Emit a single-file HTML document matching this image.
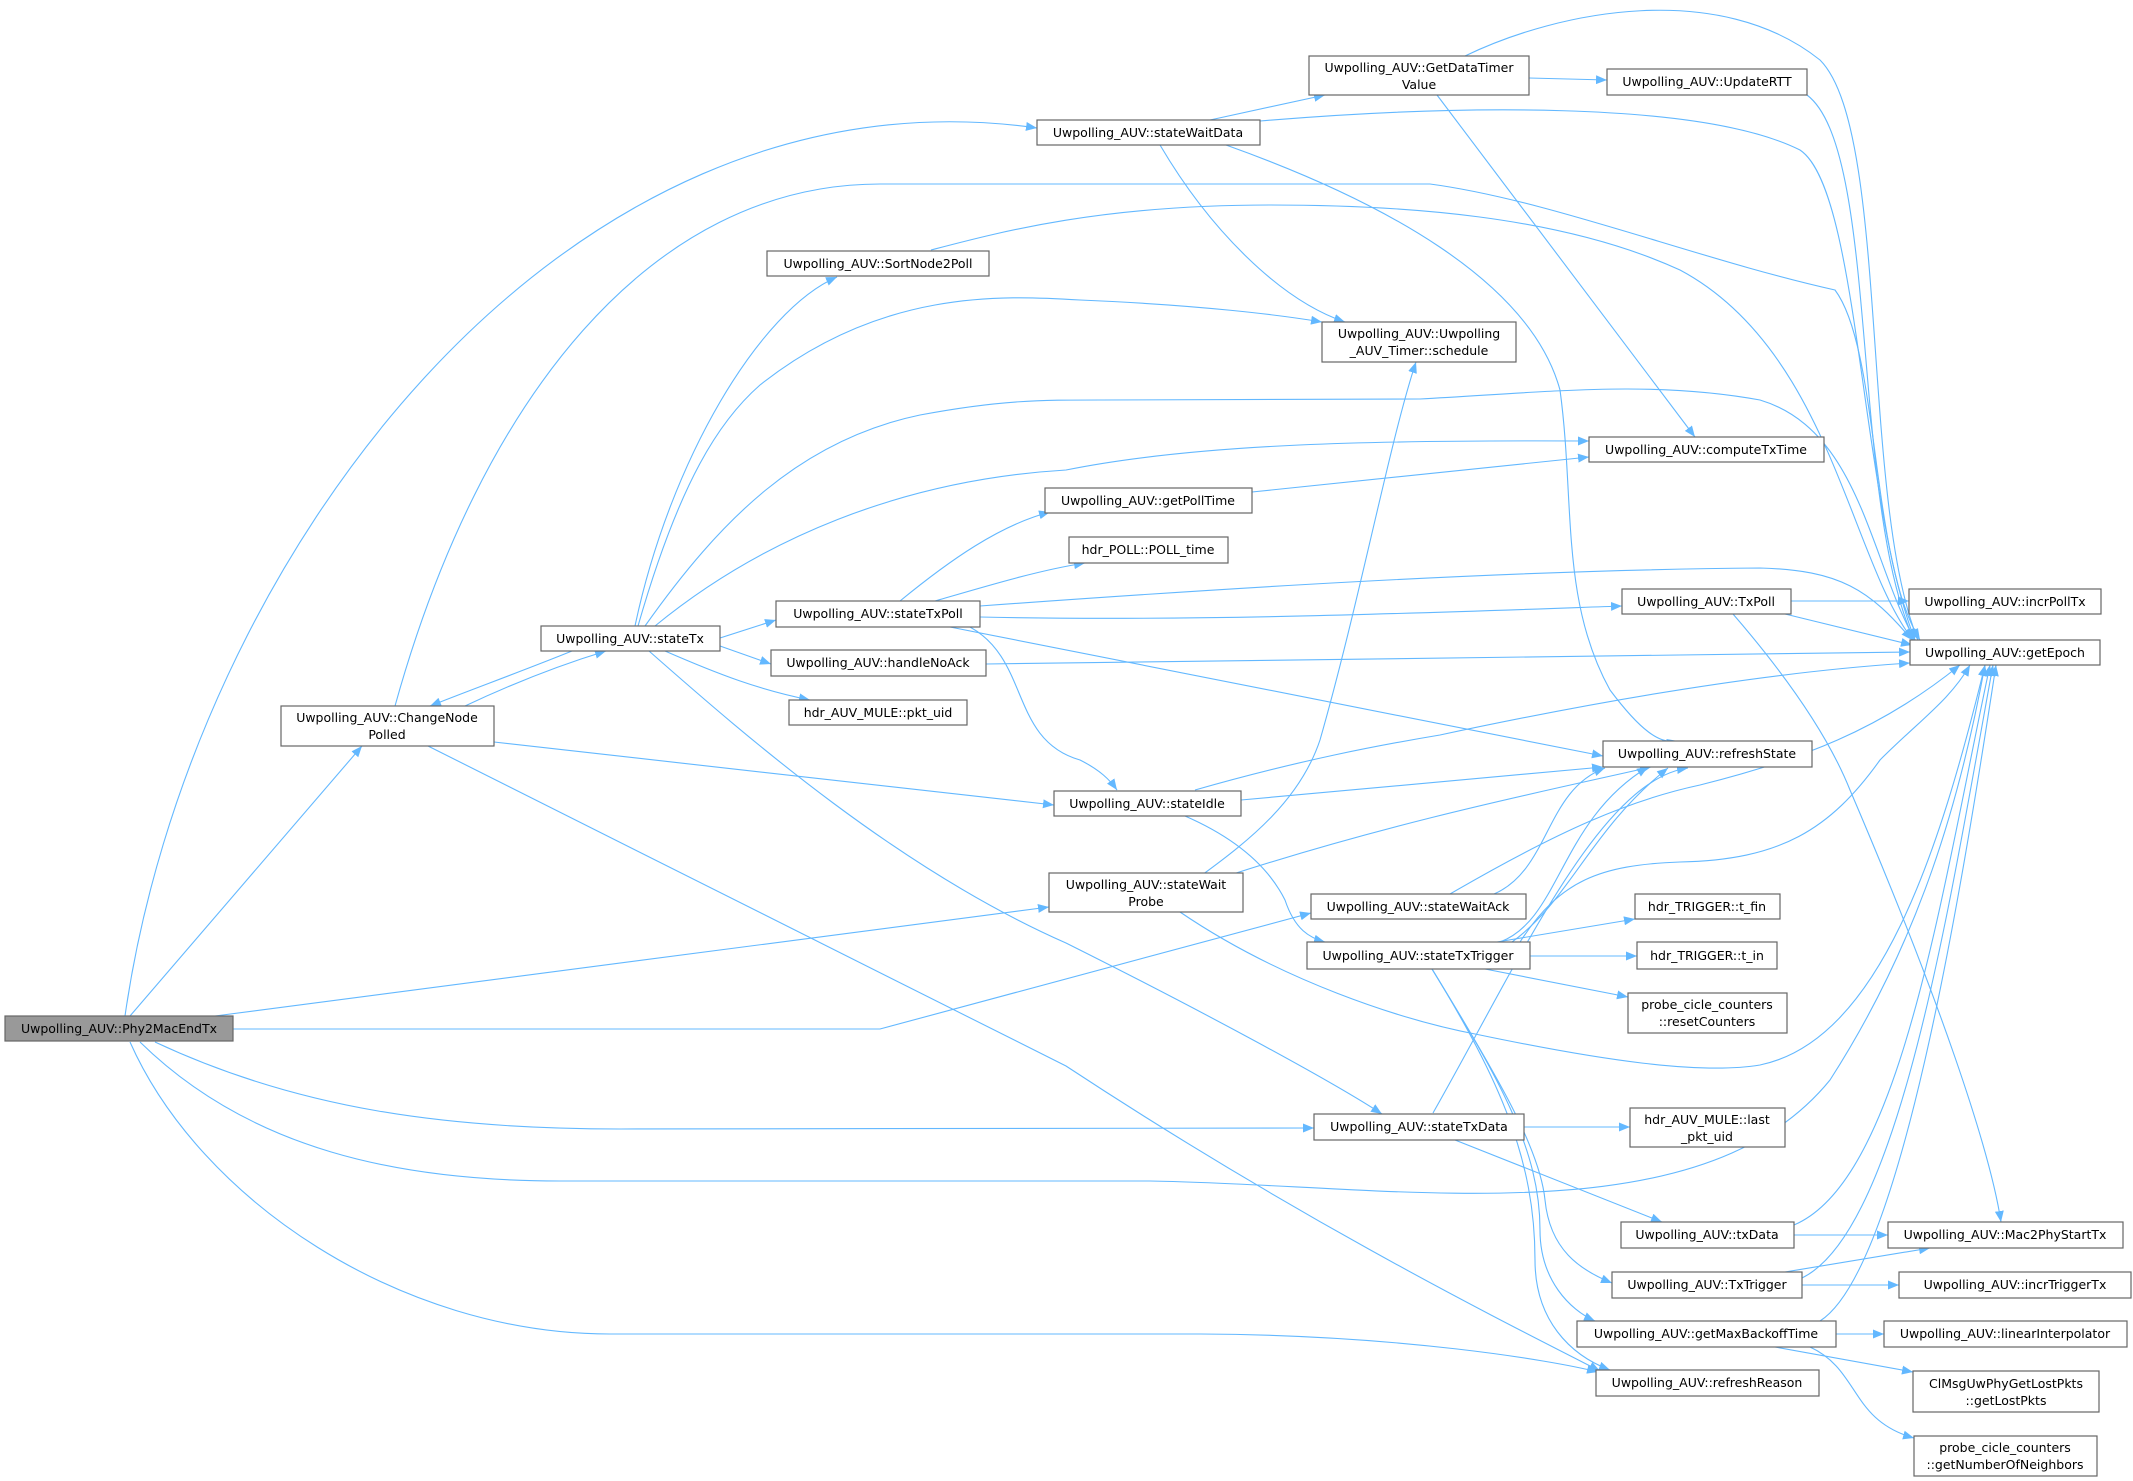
<!DOCTYPE html>
<html><head><meta charset="utf-8"><style>
html,body{margin:0;padding:0;background:#fff;}
svg{display:block;}
text{font-family:"DejaVu Sans","Liberation Sans",sans-serif;font-size:12.5px;fill:#000;}
.e{fill:none;stroke:#63b8ff;stroke-width:1.1;marker-end:url(#a);}
.n{fill:#fff;stroke:#666;stroke-width:1.2;}
</style></head><body>
<svg width="2133" height="1481" viewBox="0 0 2133 1481" xmlns="http://www.w3.org/2000/svg">
<defs><marker id="a" markerUnits="userSpaceOnUse" markerWidth="12" markerHeight="9" refX="11" refY="4.5" orient="auto"><path d="M0,0 L11,4.5 L0,9 z" fill="#63b8ff"/></marker></defs>

<!-- edges from Phy2MacEndTx -->
<path class="e" d="M125,1016 C 190,560 560,60 1037,128"/>
<path class="e" d="M130,1016 L362,746"/>
<path class="e" d="M215,1016 L1049,907"/>
<path class="e" d="M233,1029 L880,1029 L1311,913"/>
<path class="e" d="M155,1042 C 300,1110 450,1129 620,1129 L1314,1128"/>
<path class="e" d="M140,1042 C 250,1150 400,1181 560,1181 L1150,1181 C 1400,1185 1700,1240 1830,1080 C 1920,940 1960,800 1985,665"/>
<path class="e" d="M130,1042 C 200,1200 400,1334 610,1334 L1200,1334 C 1400,1335 1550,1360 1598,1372"/>

<!-- ChangeNodePolled -->
<path class="e" d="M465,706 C 520,680 570,662 606,651"/>
<path class="e" d="M572,651 C 520,672 470,690 430,706"/>
<path class="e" d="M395,706 C 480,400 650,184 880,184 L1430,184 C 1550,200 1700,260 1835,290 C 1880,350 1870,560 1920,640"/>
<path class="e" d="M494,742 L1054,805"/>
<path class="e" d="M428,746 L1066,1066 C 1300,1220 1500,1320 1600,1371"/>

<!-- stateTx -->
<path class="e" d="M635,626 C 670,460 760,310 837,277"/>
<path class="e" d="M638,626 C 680,480 720,420 760,385 C 880,290 1000,295 1080,300 C 1200,305 1280,315 1322,322"/>
<path class="e" d="M645,626 C 720,520 800,440 920,415 C 1000,400 1040,400 1100,400 L1420,399 C 1550,392 1650,380 1760,400 C 1860,430 1870,560 1915,640"/>
<path class="e" d="M655,626 C 760,540 900,480 1066,470 C 1200,443 1380,440 1589,441"/>
<path class="e" d="M720,638 L776,620"/>
<path class="e" d="M720,646 L771,664"/>
<path class="e" d="M665,651 C 720,675 760,690 810,700"/>
<path class="e" d="M649,651 C 750,740 900,870 1066,943 C 1200,1010 1330,1080 1382,1114"/>

<!-- stateTxPoll -->
<path class="e" d="M900,601 C 950,560 1000,525 1050,512"/>
<path class="e" d="M935,601 C 990,585 1040,570 1085,563"/>
<path class="e" d="M980,606 C 1200,590 1500,570 1760,568 C 1840,570 1870,590 1912,640"/>
<path class="e" d="M980,617 C 1200,622 1450,612 1622,606"/>
<path class="e" d="M950,627 L1603,756"/>
<path class="e" d="M970,627 C 1030,660 1010,740 1080,760 C 1100,770 1110,780 1117,790"/>

<!-- stateWaitData -->
<path class="e" d="M1210,120 L1325,95"/>
<path class="e" d="M1260,121 C 1450,105 1700,100 1800,150 C 1860,190 1860,500 1915,640"/>
<path class="e" d="M1160,145 C 1210,230 1280,300 1345,322"/>
<path class="e" d="M1226,145 C 1380,200 1530,280 1560,390 C 1575,500 1560,600 1610,690 C 1640,730 1660,745 1678,741"/>

<!-- GetDataTimerValue -->
<path class="e" d="M1529,78 L1607,80"/>
<path class="e" d="M1465,56 C 1560,10 1720,-20 1820,60 C 1890,130 1860,500 1918,640"/>
<path class="e" d="M1437,95 L1695,437"/>
<path class="e" d="M1807,95 C 1880,150 1850,500 1914,640"/>

<!-- SortNode2Poll -->
<path class="e" d="M931,250 C 1000,232 1100,205 1270,205 C 1400,205 1560,215 1680,270 C 1830,350 1850,560 1913,640"/>

<path class="e" d="M1252,492 L1589,457"/>
<path class="e" d="M1791,601 L1909,601"/>
<path class="e" d="M1785,614 L1912,645"/>
<path class="e" d="M1733,614 C 1790,680 1830,740 1850,790 C 1940,1000 1990,1150 2001,1222"/>
<path class="e" d="M986,664 L1910,652"/>

<!-- stateIdle -->
<path class="e" d="M1241,800 L1603,767"/>
<path class="e" d="M1195,790 C 1300,760 1380,745 1440,735 C 1650,690 1800,670 1910,663"/>
<path class="e" d="M1185,816 C 1240,840 1270,870 1285,900 C 1295,930 1310,938 1325,942"/>

<!-- stateWaitProbe -->
<path class="e" d="M1202,875 C 1250,840 1300,800 1320,740 C 1360,600 1390,440 1416,362"/>
<path class="e" d="M1230,875 C 1400,820 1550,790 1651,767"/>
<path class="e" d="M1180,912 C 1280,980 1400,1020 1480,1035 C 1600,1060 1700,1075 1760,1065 C 1880,1040 1940,850 1985,665"/>

<!-- stateWaitAck -->
<path class="e" d="M1494,894 C 1550,870 1545,790 1605,768"/>
<path class="e" d="M1450,894 C 1560,830 1630,800 1700,785 C 1800,760 1880,730 1960,665"/>

<!-- stateTxTrigger -->
<path class="e" d="M1497,942 L1635,919"/>
<path class="e" d="M1530,956 L1637,956"/>
<path class="e" d="M1485,969 L1628,997"/>
<path class="e" d="M1500,942 C 1560,920 1560,820 1648,767"/>
<path class="e" d="M1512,942 C 1570,900 1590,830 1668,768"/>
<path class="e" d="M1520,942 C 1560,880 1600,865 1680,862 C 1780,860 1830,830 1880,760 C 1920,720 1950,700 1970,665"/>
<path class="e" d="M1432,969 C 1500,1080 1540,1150 1545,1200 C 1550,1250 1580,1270 1612,1283"/>
<path class="e" d="M1432,969 C 1500,1080 1540,1150 1540,1230 C 1540,1280 1570,1310 1595,1321"/>
<path class="e" d="M1432,969 C 1500,1080 1535,1160 1535,1260 C 1535,1320 1570,1355 1610,1370"/>

<!-- stateTxData -->
<path class="e" d="M1433,1113 C 1520,960 1600,780 1688,768"/>
<path class="e" d="M1524,1127 L1630,1127"/>
<path class="e" d="M1455,1140 L1662,1222"/>
<path class="e" d="M1794,1235 L1888,1235"/>
<path class="e" d="M1794,1225 C 1900,1180 1940,900 1990,665"/>
<path class="e" d="M1785,1272 L1930,1248"/>
<path class="e" d="M1802,1285 L1899,1285"/>
<path class="e" d="M1802,1278 C 1900,1230 1950,900 1993,665"/>
<path class="e" d="M1836,1334 L1884,1334"/>
<path class="e" d="M1775,1347 L1913,1372"/>
<path class="e" d="M1810,1347 C 1860,1370 1850,1420 1914,1438"/>
<path class="e" d="M1820,1321 C 1900,1270 1960,900 1996,665"/>

<!-- nodes -->
<rect x="5" y="1016" width="228" height="25" fill="#999" stroke="#666" stroke-width="1.2"/>
<text x="119" y="1033" text-anchor="middle">Uwpolling_AUV::Phy2MacEndTx</text>

<rect class="n" x="281" y="706" width="213" height="40"/>
<text x="387" y="722" text-anchor="middle">Uwpolling_AUV::ChangeNode</text>
<text x="387" y="739" text-anchor="middle">Polled</text>

<rect class="n" x="541" y="626" width="179" height="25"/><text x="630" y="643" text-anchor="middle">Uwpolling_AUV::stateTx</text>
<rect class="n" x="1037" y="120" width="223" height="25"/><text x="1148" y="137" text-anchor="middle">Uwpolling_AUV::stateWaitData</text>
<rect class="n" x="1309" y="56" width="220" height="39"/><text x="1419" y="72" text-anchor="middle">Uwpolling_AUV::GetDataTimer</text><text x="1419" y="89" text-anchor="middle">Value</text>
<rect class="n" x="1607" y="69" width="200" height="26"/><text x="1707" y="86" text-anchor="middle">Uwpolling_AUV::UpdateRTT</text>
<rect class="n" x="767" y="251" width="222" height="25"/><text x="878" y="268" text-anchor="middle">Uwpolling_AUV::SortNode2Poll</text>
<rect class="n" x="1322" y="322" width="194" height="40"/><text x="1419" y="338" text-anchor="middle">Uwpolling_AUV::Uwpolling</text><text x="1419" y="355" text-anchor="middle">_AUV_Timer::schedule</text>
<rect class="n" x="1589" y="437" width="235" height="25"/><text x="1706" y="454" text-anchor="middle">Uwpolling_AUV::computeTxTime</text>
<rect class="n" x="1045" y="488" width="207" height="25"/><text x="1148" y="505" text-anchor="middle">Uwpolling_AUV::getPollTime</text>
<rect class="n" x="1069" y="537" width="159" height="26"/><text x="1148" y="554" text-anchor="middle">hdr_POLL::POLL_time</text>
<rect class="n" x="776" y="601" width="204" height="26"/><text x="878" y="618" text-anchor="middle">Uwpolling_AUV::stateTxPoll</text>
<rect class="n" x="1622" y="589" width="169" height="25"/><text x="1706" y="606" text-anchor="middle">Uwpolling_AUV::TxPoll</text>
<rect class="n" x="1909" y="589" width="192" height="25"/><text x="2005" y="606" text-anchor="middle">Uwpolling_AUV::incrPollTx</text>
<rect class="n" x="1910" y="640" width="190" height="25"/><text x="2005" y="657" text-anchor="middle">Uwpolling_AUV::getEpoch</text>
<rect class="n" x="771" y="650" width="215" height="26"/><text x="878" y="667" text-anchor="middle">Uwpolling_AUV::handleNoAck</text>
<rect class="n" x="789" y="700" width="178" height="25"/><text x="878" y="717" text-anchor="middle">hdr_AUV_MULE::pkt_uid</text>
<rect class="n" x="1603" y="741" width="209" height="26"/><text x="1707" y="758" text-anchor="middle">Uwpolling_AUV::refreshState</text>
<rect class="n" x="1054" y="791" width="187" height="25"/><text x="1147" y="808" text-anchor="middle">Uwpolling_AUV::stateIdle</text>
<rect class="n" x="1049" y="873" width="194" height="39"/><text x="1146" y="889" text-anchor="middle">Uwpolling_AUV::stateWait</text><text x="1146" y="906" text-anchor="middle">Probe</text>
<rect class="n" x="1311" y="894" width="215" height="25"/><text x="1418" y="911" text-anchor="middle">Uwpolling_AUV::stateWaitAck</text>
<rect class="n" x="1307" y="942" width="223" height="27"/><text x="1418" y="960" text-anchor="middle">Uwpolling_AUV::stateTxTrigger</text>
<rect class="n" x="1635" y="894" width="145" height="25"/><text x="1707" y="911" text-anchor="middle">hdr_TRIGGER::t_fin</text>
<rect class="n" x="1637" y="942" width="140" height="27"/><text x="1707" y="960" text-anchor="middle">hdr_TRIGGER::t_in</text>
<rect class="n" x="1628" y="993" width="159" height="40"/><text x="1707" y="1009" text-anchor="middle">probe_cicle_counters</text><text x="1707" y="1026" text-anchor="middle">::resetCounters</text>
<rect class="n" x="1314" y="1114" width="210" height="26"/><text x="1419" y="1131" text-anchor="middle">Uwpolling_AUV::stateTxData</text>
<rect class="n" x="1630" y="1108" width="155" height="39"/><text x="1707" y="1124" text-anchor="middle">hdr_AUV_MULE::last</text><text x="1707" y="1141" text-anchor="middle">_pkt_uid</text>
<rect class="n" x="1621" y="1222" width="173" height="26"/><text x="1707" y="1239" text-anchor="middle">Uwpolling_AUV::txData</text>
<rect class="n" x="1888" y="1222" width="235" height="26"/><text x="2005" y="1239" text-anchor="middle">Uwpolling_AUV::Mac2PhyStartTx</text>
<rect class="n" x="1612" y="1272" width="190" height="26"/><text x="1707" y="1289" text-anchor="middle">Uwpolling_AUV::TxTrigger</text>
<rect class="n" x="1899" y="1272" width="232" height="26"/><text x="2015" y="1289" text-anchor="middle">Uwpolling_AUV::incrTriggerTx</text>
<rect class="n" x="1577" y="1321" width="259" height="26"/><text x="1706" y="1338" text-anchor="middle">Uwpolling_AUV::getMaxBackoffTime</text>
<rect class="n" x="1884" y="1321" width="243" height="26"/><text x="2005" y="1338" text-anchor="middle">Uwpolling_AUV::linearInterpolator</text>
<rect class="n" x="1596" y="1370" width="223" height="26"/><text x="1707" y="1387" text-anchor="middle">Uwpolling_AUV::refreshReason</text>
<rect class="n" x="1913" y="1371" width="186" height="41"/><text x="2006" y="1388" text-anchor="middle">ClMsgUwPhyGetLostPkts</text><text x="2006" y="1405" text-anchor="middle">::getLostPkts</text>
<rect class="n" x="1914" y="1436" width="183" height="40"/><text x="2005" y="1452" text-anchor="middle">probe_cicle_counters</text><text x="2005" y="1469" text-anchor="middle">::getNumberOfNeighbors</text>
</svg>
</body></html>
